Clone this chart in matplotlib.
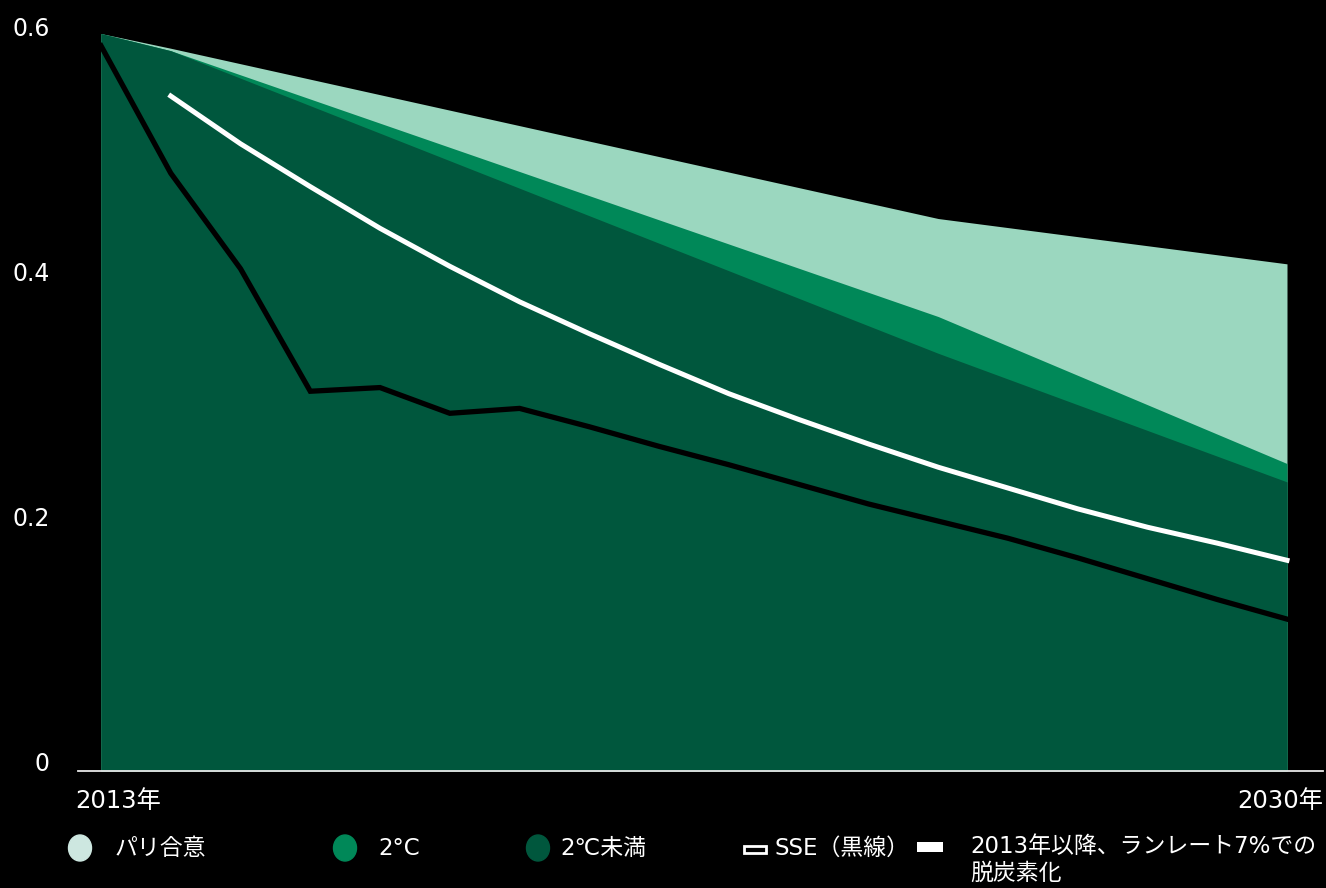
import matplotlib
matplotlib.use("Agg")
import matplotlib.pyplot as plt
import matplotlib.transforms as mtransforms
from matplotlib.patches import Ellipse, Rectangle

# wide latin glyphs first, Japanese from the CJK family
plt.rcParams['font.family'] = ['DejaVu Sans', 'Noto Sans CJK JP']

# === Data ===
band_years = [2013, 2014, 2025, 2030]
paris_top = [0.602, 0.590, 0.451, 0.414]     # パリ合意
two_c_top = [0.602, 0.588, 0.371, 0.251]     # 2°C
below_2c_top = [0.602, 0.588, 0.341, 0.236]  # 2℃未満

sse_years = list(range(2013, 2031))
sse_values = [0.592, 0.488, 0.410, 0.310, 0.313, 0.292, 0.296, 0.281, 0.265,
              0.250, 0.234, 0.218, 0.204, 0.190, 0.174, 0.157, 0.140, 0.124]

runrate_years = list(range(2014, 2031))
runrate_values = [0.551, 0.512, 0.477, 0.443, 0.412, 0.383, 0.357, 0.332, 0.308,
                  0.287, 0.267, 0.248, 0.231, 0.214, 0.199, 0.186, 0.172]

y_ticks = [0, 0.2, 0.4, 0.6]
y_tick_labels = ["0", "0.2", "0.4", "0.6"]
x_labels = ["2013年", "2030年"]

legend_labels = ["パリ合意", "2°C", "2℃未満", "SSE（黒線）",
                 "2013年以降、ランレート7%での\n脱炭素化"]

# === Styling ===
C_LIGHT = "#9bd7bf"
C_MID = "#008858"
C_DARK = "#00573d"
C_LEG_LIGHT = "#cde7e0"
BG = "black"
FG = "white"

W, H = 1326, 888
fig = plt.figure(figsize=(W / 100, H / 100), dpi=100, facecolor=BG)
ax_left, ax_right, ax_bottom, ax_top = 78, 1323, 771, 10
ax = fig.add_axes([ax_left / W, (H - ax_bottom) / H,
                   (ax_right - ax_left) / W, (ax_bottom - ax_top) / H])
ax.set_facecolor(BG)

# x: 2013 at px 101, 2030 at px 1287
px_per_year = (1287 - 101) / 17
ax.set_xlim(2013 - (101 - ax_left) / px_per_year, 2030 + (ax_right - 1287) / px_per_year)
px_per_unit = 1225
ax.set_ylim(0, (ax_bottom - ax_top) / px_per_unit)

ax.fill_between(band_years, 0, paris_top, color=C_LIGHT, linewidth=0)
ax.fill_between(band_years, 0, two_c_top, color=C_MID, linewidth=0)
ax.fill_between(band_years, 0, below_2c_top, color=C_DARK, linewidth=0)

ax.plot(sse_years, sse_values, color="black", linewidth=3.8, solid_joinstyle="miter")
ax.plot(runrate_years, runrate_values, color=FG, linewidth=3.6)

for s in ["top", "right", "left"]:
    ax.spines[s].set_visible(False)
ax.spines["bottom"].set_color("#e8e8e8")
ax.spines["bottom"].set_linewidth(1.3)
ax.set_xticks([])
ax.set_yticks([])

# y tick labels, nudged slightly above their values
ytrans = mtransforms.offset_copy(ax.get_yaxis_transform(), fig=fig, x=-28, y=7, units="dots")
for v, lab in zip(y_ticks, y_tick_labels):
    ax.text(0, v, lab, transform=ytrans, ha="right", va="center", color=FG, fontsize=17)

# x labels at both ends of the axis
xtrans = mtransforms.offset_copy(ax.transAxes, fig=fig, y=-30, units="dots")
ax.text(-0.002, 0, x_labels[0], transform=xtrans, ha="left", va="center", color=FG, fontsize=17.5)
ax.text(1, 0, x_labels[1], transform=xtrans, ha="right", va="center", color=FG, fontsize=17.5)

# === Legend (drawn by hand, in pixel positions) ===
def fx(px):
    return px / W

def fy(py):
    return (H - py) / H

leg_y = 848
fs_leg = 16.5
for cx, col in zip([80, 345, 538], [C_LEG_LIGHT, C_MID, C_DARK]):
    fig.patches.append(Ellipse((fx(cx), fy(leg_y)), 23 / W, 26 / H, color=col,
                               transform=fig.transFigure))
for tx, lab in zip([115, 378, 560], legend_labels[:3]):
    fig.text(fx(tx), fy(leg_y), lab, color=FG, fontsize=fs_leg, ha="left", va="center")

fig.patches.append(Rectangle((fx(744), fy(853)), 22 / W, 7 / H, facecolor="none",
                             edgecolor=FG, linewidth=2.0, transform=fig.transFigure))
fig.text(fx(775), fy(leg_y), legend_labels[3], color=FG, fontsize=fs_leg, ha="left", va="center")
fig.patches.append(Rectangle((fx(917), fy(852)), 26 / W, 10 / H, facecolor=FG,
                             edgecolor="none", transform=fig.transFigure))
fig.text(fx(970), fy(leg_y - 13), legend_labels[4], color=FG, fontsize=fs_leg,
         ha="left", va="top", linespacing=1.2)

fig.savefig("out.png", dpi=100, facecolor=BG)
